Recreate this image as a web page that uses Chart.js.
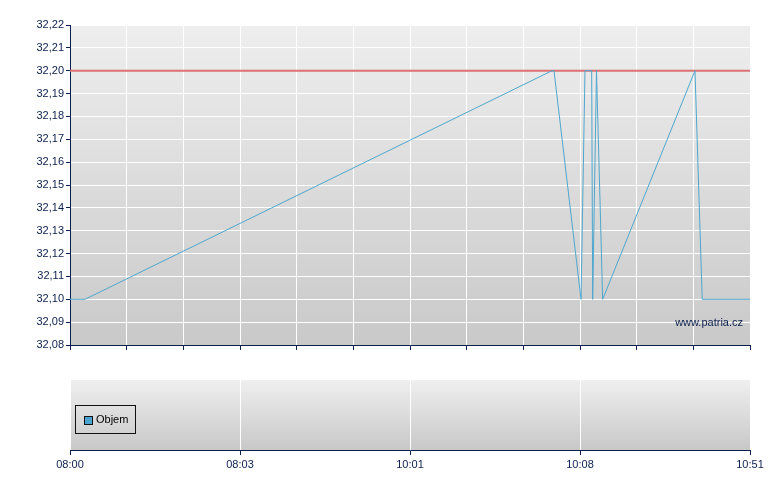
<!DOCTYPE html>
<html>
<head>
<meta charset="utf-8">
<script src="https://cdn.jsdelivr.net/npm/chart.js@4.4.1/dist/chart.umd.min.js"></script>
<style>
  html, body { margin: 0; padding: 0; background: #fff; }
  #wrap { position: relative; width: 780px; height: 490px; font-family: 'Liberation Sans', Arial, sans-serif; }
  #priceBox { position: absolute; left: 0; top: 0; width: 780px; height: 365px; }
  #volBox { position: absolute; left: 0; top: 370px; width: 780px; height: 120px; }
  #legend {
    position: absolute; left: 75px; top: 405px; width: 59px; height: 27px;
    border: 1px solid #111; box-sizing: content-box;
    font-size: 11px; color: #000; line-height: 27px;
  }
  #legend .sw {
    position: absolute; left: 8px; top: 10px; width: 7px; height: 7px;
    background: #4ba3cf; border: 1px solid #111;
  }
  #legend .lb { position: absolute; left: 20px; top: 0; }
</style>
</head>
<body>
<div id="wrap">
  <div id="priceBox"><canvas id="priceChart"></canvas></div>
  <div id="volBox"><canvas id="volChart"></canvas></div>
  <div id="legend"><span class="sw"></span><span class="lb">Objem</span></div>
</div>
<script>
'use strict';

// ── Data ─────────────────────────────────────────────────────────────────────
// x = trade position on the axis (0 = 08:00 … 12 = 10:51)
const tradePos   = [0, 0.265, 8.506, 8.541, 9.018, 9.088, 9.206, 9.224, 9.291, 9.400, 11.029, 11.157, 12];
const tradePrice = [32.10, 32.10, 32.20, 32.20, 32.10, 32.20, 32.20, 32.10, 32.20, 32.10, 32.20, 32.10, 32.10];
const limitPrice = 32.20;
const volume     = [];

const yTicks      = [32.08, 32.09, 32.10, 32.11, 32.12, 32.13, 32.14, 32.15, 32.16, 32.17, 32.18, 32.19, 32.20, 32.21, 32.22];
const xGridPos    = [0, 1, 2, 3, 4, 5, 6, 7, 8, 9, 10, 11, 12];
const timeLabels  = ['08:00', '08:03', '10:01', '10:08', '10:51'];
const timeLabelPos = [0, 3, 6, 9, 12];

const NAVY = '#0b1f4e';
Chart.defaults.font.family = "'Liberation Sans', Arial, sans-serif";
Chart.defaults.font.size = 11;
Chart.defaults.color = NAVY;

// ── Helpers ──────────────────────────────────────────────────────────────────

const gradientBg = (top, bottom) => ({
  id: 'gradientBg',
  beforeDraw(chart) {
    const a = chart.chartArea;
    if (!a) return;
    const ctx = chart.ctx;
    const g = ctx.createLinearGradient(0, a.top, 0, a.bottom);
    g.addColorStop(0, top);
    g.addColorStop(1, bottom);
    ctx.save();
    ctx.fillStyle = g;
    ctx.fillRect(a.left, a.top, a.right - a.left, a.bottom - a.top);
    ctx.restore();
  }
});

const watermark = {
  id: 'watermark',
  afterDatasetsDraw(chart) {
    const a = chart.chartArea;
    const ctx = chart.ctx;
    ctx.save();
    ctx.font = "11px 'Liberation Sans', Arial, sans-serif";
    ctx.fillStyle = NAVY;
    ctx.textAlign = 'right';
    ctx.textBaseline = 'middle';
    ctx.fillText('www.patria.cz', a.right - 7, a.bottom - 22);
    ctx.restore();
  }
};

// ── Price chart ──────────────────────────────────────────────────────────────

new Chart(document.getElementById('priceChart'), {
  type: 'scatter',
  data: {
    datasets: [
      {
        label: 'Cena',
        data: tradePos.map((x, i) => ({ x, y: tradePrice[i] })),
        showLine: true, borderColor: '#4ea7cf', borderWidth: 1,
        pointRadius: 0, tension: 0
      },
      {
        label: 'Limit',
        data: [{ x: tradePos[0], y: limitPrice }, { x: tradePos[tradePos.length - 1], y: limitPrice }],
        showLine: true, borderColor: '#dc7272', borderWidth: 2,
        pointRadius: 0
      }
    ]
  },
  options: {
    responsive: true, maintainAspectRatio: false, animation: false,
    layout: { padding: { top: 25, right: 30, bottom: 10, left: 0 } },
    plugins: { legend: { display: false }, tooltip: { enabled: false } },
    scales: {
      x: {
        type: 'linear', min: 0, max: 12,
        afterBuildTicks: s => { s.ticks = xGridPos.map(v => ({ value: v })); },
        afterFit: s => { s.height = 10; },
        ticks: { callback: () => '' },
        grid: { color: '#ffffff', tickColor: NAVY, tickLength: 5, lineWidth: 1 },
        border: { color: NAVY, width: 1 }
      },
      y: {
        min: yTicks[0], max: yTicks[yTicks.length - 1],
        afterBuildTicks: s => { s.ticks = yTicks.map(v => ({ value: v })); },
        afterFit: s => { s.width = 70; },
        ticks: {
          padding: 2, color: NAVY,
          callback: v => Number(v).toFixed(2).replace('.', ',')
        },
        grid: { color: '#ffffff', tickColor: NAVY, tickLength: 4, lineWidth: 1 },
        border: { color: NAVY, width: 1 }
      }
    }
  },
  plugins: [gradientBg('#eeeeee', '#c9c9c9'), watermark]
});

// ── Volume chart ─────────────────────────────────────────────────────────────

new Chart(document.getElementById('volChart'), {
  type: 'scatter',
  data: {
    datasets: [
      { type: 'bar', label: 'Objem', data: volume, backgroundColor: '#4ba3cf' }
    ]
  },
  options: {
    responsive: true, maintainAspectRatio: false, animation: false,
    layout: { padding: { top: 10, right: 30, bottom: 10, left: 70 } },
    plugins: { legend: { display: false }, tooltip: { enabled: false } },
    scales: {
      x: {
        type: 'linear', min: 0, max: 12, offset: false,
        afterBuildTicks: s => { s.ticks = timeLabelPos.map(v => ({ value: v })); },
        afterFit: s => { s.height = 30; },
        ticks: {
          padding: 3, color: NAVY, maxRotation: 0, autoSkip: false,
          callback: (v) => timeLabels[timeLabelPos.indexOf(v)]
        },
        grid: { offset: false, color: '#ffffff', tickColor: NAVY, tickLength: 5, lineWidth: 1 },
        border: { color: NAVY, width: 1 }
      },
      y: { display: false, min: 0, max: 1 }
    }
  },
  plugins: [gradientBg('#efefef', '#c8c8c8')]
});
</script>
</body>
</html>
